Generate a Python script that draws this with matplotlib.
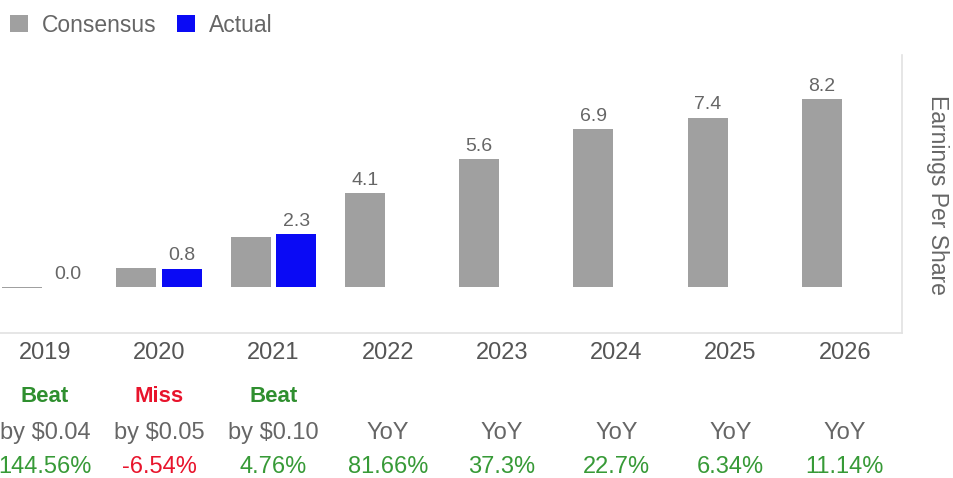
import numpy as np
import matplotlib
matplotlib.use("Agg")
import matplotlib.pyplot as plt
from matplotlib.patches import Patch
from matplotlib import transforms

plt.rcParams['font.family'] = ['Liberation Sans', 'DejaVu Sans']

# EPS data
years = ['2019', '2020', '2021', '2022', '2023', '2024', '2025', '2026']
consensus = [-0.04, 0.85, 2.2, 4.1, 5.6, 6.9, 7.4, 8.2]
actual = [0.0, 0.8, 2.3, np.nan, np.nan, np.nan, np.nan, np.nan]

# Table rows under the chart
status = ['Beat', 'Miss', 'Beat', '', '', '', '', '']
detail = ['by $0.04', 'by $0.05', 'by $0.10', 'YoY', 'YoY', 'YoY', 'YoY', 'YoY']
change = ['144.56%', '-6.54%', '4.76%', '81.66%', '37.3%', '22.7%', '6.34%', '11.14%']

W, H = 954, 478
fig = plt.figure(figsize=(W / 100, H / 100), dpi=100)
fig.patch.set_facecolor('white')

def fy(py):
    return 1 - py / H

ax = fig.add_axes([0, fy(333), 902 / W, (333 - 55) / H])

GREY = '#a0a0a0'
BLUE = '#0a0af5'
TXT = '#666666'
GREEN = '#2f8f2f'
RED = '#e8142c'

x = np.arange(len(years))
off = 0.2
bw = 0.35
ax.bar(x - off, consensus, width=bw, color=GREY, zorder=2)
ax.bar(x + off, actual, width=bw, color=BLUE, zorder=2)

for i in range(len(years)):
    if not np.isnan(actual[i]):
        xv, val = x[i] + off, actual[i]
    else:
        xv, val = x[i] - off, consensus[i]
    ax.annotate(f'{val:.1f}', (xv, max(val, 0)), xytext=(0, 3),
                textcoords='offset points', ha='center', va='bottom',
                fontsize=14, color=TXT)

ax.set_xlim(-0.394, 7.5)
ax.set_ylim(-2.01, 10.13)
ax.set_xticks([])
ax.set_yticks([])
for s in ['top', 'left']:
    ax.spines[s].set_visible(False)
for s in ['bottom', 'right']:
    ax.spines[s].set_color('#e2e2e2')
    ax.spines[s].set_linewidth(1.2)

fig.text(938 / W, fy(195), 'Earnings Per Share', rotation=270,
         ha='center', va='center', fontsize=16.5, color=TXT)

# Legend
handles = [Patch(facecolor=GREY, edgecolor='none', label='Consensus'),
           Patch(facecolor=BLUE, edgecolor='none', label='Actual')]
fig.legend(handles=handles, loc='upper left', bbox_to_anchor=(5 / W, fy(9)),
           ncol=2, frameon=False, fontsize=16.5, handlelength=0.8,
           handleheight=0.8, handletextpad=0.6, columnspacing=0.9,
           labelcolor=TXT, borderaxespad=0, borderpad=0.2)

# Table rows below the plot
tr = transforms.blended_transform_factory(ax.transData, fig.transFigure)
for i in range(len(years)):
    fig.text(x[i], fy(353), years[i], transform=tr, ha='center', va='center',
             fontsize=17, color='#555555')
    if status[i]:
        fig.text(x[i], fy(396), status[i], transform=tr, ha='center',
                 va='center', fontsize=16, fontweight='bold',
                 color=GREEN if status[i] == 'Beat' else RED)
    fig.text(x[i], fy(433), detail[i], transform=tr, ha='center', va='center',
             fontsize=17, color=TXT)
    fig.text(x[i], fy(467), change[i], transform=tr, ha='center', va='center',
             fontsize=17, color=RED if change[i].startswith('-') else '#379a37')

fig.savefig('out.png', dpi=100, facecolor='white')
